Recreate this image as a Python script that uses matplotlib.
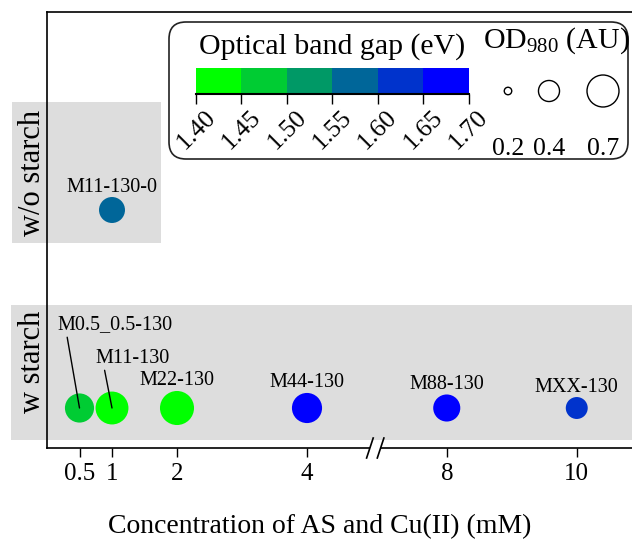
import numpy as np
import matplotlib
matplotlib.use('Agg')
import matplotlib.pyplot as plt
from matplotlib.colors import ListedColormap, BoundaryNorm
from matplotlib.patches import FancyBboxPatch, Rectangle
from matplotlib.cm import ScalarMappable

plt.rcParams['font.family'] = ['Liberation Serif', 'DejaVu Serif']
plt.rcParams['mathtext.fontset'] = 'custom'
plt.rcParams['mathtext.rm'] = 'Liberation Serif'
plt.rcParams['mathtext.it'] = 'Liberation Serif:italic'

# ---------------- data ----------------
groups = ['w starch', 'w/o starch']
labels_w = ['M0.5_0.5-130', 'M11-130', 'M22-130', 'M44-130', 'M88-130', 'MXX-130']
conc_w = [0.5, 1, 2, 4, 8, 10]
gap_w = [1.47, 1.42, 1.43, 1.68, 1.67, 1.62]
od_w = [0.61, 0.73, 0.77, 0.64, 0.55, 0.42]

labels_wo = ['M11-130-0']
conc_wo = [1]
gap_wo = [1.57]
od_wo = [0.52]

xtick_vals = [0.5, 1, 2, 4, 8, 10]
xtick_labels = ['0.5', '1', '2', '4', '8', '10']
gap_bounds = [1.40, 1.45, 1.50, 1.55, 1.60, 1.65, 1.70]
gap_colors = ['#00ff00', '#00cc33', '#009966', '#006699', '#0033cc', '#0000ff']
od_legend = [0.2, 0.4, 0.7]

# ---------------- scales ----------------
BREAK_AT = 5.0
HIDDEN = 1.85          # amount of x range removed by the axis break


def xpos(v):
    v = np.asarray(v, dtype=float)
    return np.where(v <= BREAK_AT, v, v - HIDDEN)


def od_size(od):
    return 1003.0 * (np.asarray(od, dtype=float) - 0.171)


cmap = ListedColormap(gap_colors)
norm = BoundaryNorm(gap_bounds, cmap.N)

W, H = 632, 544
fig = plt.figure(figsize=(W / 100, H / 100), dpi=100)

# background layer (pixel coordinates) for group bands
bax = fig.add_axes([0, 0, 1, 1], zorder=-1)
bax.set_xlim(0, W)
bax.set_ylim(H, 0)
bax.axis('off')
band_color = '#dddddd'
bax.add_patch(Rectangle((11, 305), W - 11, 135, color=band_color, lw=0))
bax.add_patch(Rectangle((12, 102), 149, 141, color=band_color, lw=0))
bax.text(32, 362, groups[0], rotation=90, ha='center', va='center', fontsize=22)
bax.text(32, 173, groups[1], rotation=90, ha='center', va='center', fontsize=22)

# main axes
ax = fig.add_axes([47 / W, (H - 448) / H, 1 - 47 / W, (448 - 12) / H])
ax.set_facecolor('none')
ax.set_xlim(0, (W - 47) / 65)
ax.set_ylim(-0.202, 2.0)
ax.spines['right'].set_visible(False)
for s in ['left', 'bottom', 'top']:
    ax.spines[s].set_linewidth(1.2)
ax.set_yticks([])
ax.set_xticks(xpos(xtick_vals))
ax.set_xticklabels(xtick_labels, fontsize=18)
ax.tick_params(axis='x', length=6.5, width=1, pad=4, direction='out')
ax.set_xlabel('Concentration of AS and Cu(II) (mM)', fontsize=20)
ax.xaxis.set_label_coords(320 / W, 1 - 527 / H, transform=fig.transFigure)
ax.xaxis.label.set_va('center')

s_w = od_size(od_w)
s_wo = od_size(od_wo)
ax.scatter(xpos(conc_w), np.zeros(len(conc_w)), s=s_w, c=cmap(norm(gap_w)),
           edgecolors='none', zorder=2)
ax.scatter(xpos(conc_wo), np.ones(len(conc_wo)), s=s_wo, c=cmap(norm(gap_wo)),
           edgecolors='none', zorder=2)

# labels
leader = {'M0.5_0.5-130': ((25.6, 59.8), (0.08, 0.0)),
          'M11-130': ((14.6, 36.0), (0.12, 0.0))}
for lab, xv, sv in zip(labels_w, conc_w, s_w):
    px = float(xpos(xv))
    if lab in leader:
        off, rp = leader[lab]
        ax.annotate(lab, (px, 0), xytext=off, textcoords='offset points',
                    ha='center', va='center', fontsize=14.5, zorder=4,
                    arrowprops=dict(arrowstyle='-', color='k', lw=1,
                                    relpos=rp, shrinkA=0, shrinkB=0))
    else:
        ax.annotate(lab, (px, 0), xytext=(0, np.sqrt(sv) / 2 + 7.2),
                    textcoords='offset points', ha='center', va='center',
                    fontsize=14.5, zorder=4)
for lab, xv, sv in zip(labels_wo, conc_wo, s_wo):
    ax.annotate(lab, (float(xpos(xv)), 1), xytext=(0, np.sqrt(sv) / 2 + 7.2),
                textcoords='offset points', ha='center', va='center',
                fontsize=14.5, zorder=4)

# axis break marker
tr = ax.get_xaxis_transform()
bpos = 5.05
dxp = 5.35 / 65
hx, hy = 3.3 / 65, 10 / 436
ax.plot([bpos - dxp, bpos + dxp], [0, 0], transform=tr, color='white', lw=3,
        clip_on=False, zorder=5, solid_capstyle='butt')
for c in (bpos - dxp, bpos + dxp):
    ax.plot([c - hx, c + hx], [-hy, hy], transform=tr, color='k', lw=1.2,
            clip_on=False, zorder=6)

# overlay layer for the legend box
lax = fig.add_axes([0, 0, 1, 1], zorder=5)
lax.set_xlim(0, W)
lax.set_ylim(H, 0)
lax.axis('off')
lax.add_patch(FancyBboxPatch((169, 22), 459, 137,
                             boxstyle='round,pad=0,rounding_size=17',
                             fc='white', ec='#222222', lw=1.2))
lax.text(332, 54, 'Optical band gap (eV)', ha='center', va='baseline', fontsize=21.5)
lax.text(556, 48, 'OD$_{980}$ (AU)', ha='center', va='baseline', fontsize=21.5)
leg_x = [508, 549, 603]
lax.scatter(leg_x, [91] * 3, s=od_size(od_legend), facecolors='none',
            edgecolors='k', linewidths=1)
for x, v in zip(leg_x, od_legend):
    lax.text(x, 155, f'{v}', ha='center', va='baseline', fontsize=18.5)

# colorbar
cax = fig.add_axes([196 / W, 1 - 94 / H, 272.7 / W, 26.3 / H], zorder=7)
cb = fig.colorbar(ScalarMappable(norm=norm, cmap=cmap), cax=cax,
                  orientation='horizontal', ticks=gap_bounds)
cb.outline.set_visible(False)
cb.set_ticklabels([f'{b:.2f}' for b in gap_bounds])
cax.plot([0, 1], [0, 0], transform=cax.transAxes, color='k', lw=1.5, clip_on=False)
cax.tick_params(axis='x', length=7.5, width=1, labelsize=18.5,
                labelrotation=45, pad=1.5)

fig.savefig('out.png', dpi=100)
